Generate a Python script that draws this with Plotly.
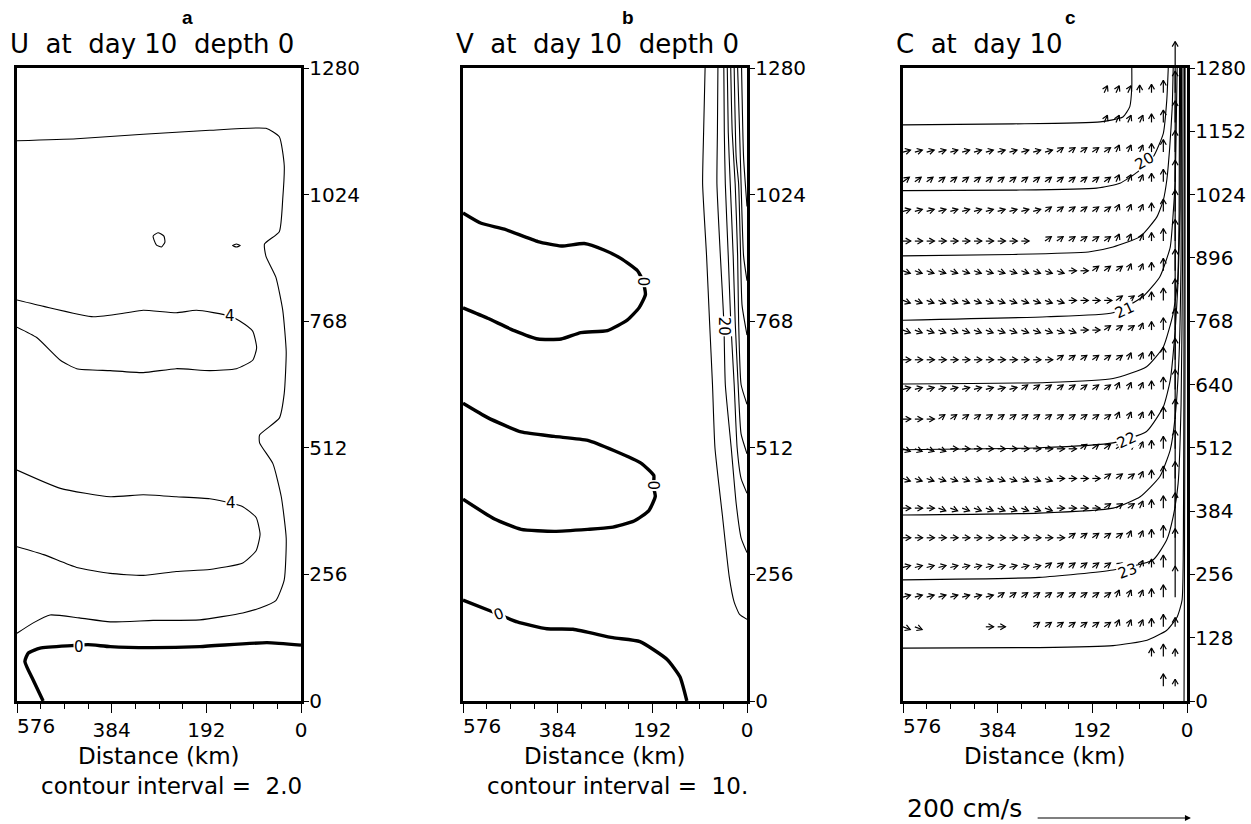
import math
import plotly.graph_objects as go

W, H = 1251, 824
FONT = "DejaVu Sans"

# ---------------------------------------------------------------- axes (km)
X_TICKS = [576, 384, 192, 0]
X_TICK_TEXT = ["", "384", "192", "0"]
X_MINOR = [528, 480, 432, 336, 288, 240, 144, 96, 48]
Y_TICKS_AB = [0, 256, 512, 768, 1024, 1280]
Y_TICKS_C = [0, 128, 256, 384, 512, 640, 768, 896, 1024, 1152, 1280]

# ---------------------------------------------------------------- panel a: U, interval 2.0
U0_X = [0, 69, 205, 306, 387, 432, 465, 529, 553, 560, 543, 523]
U0_Y = [113, 118, 110, 108, 110, 114, 112, 107, 97, 80, 42, 0]
U2_X = [576, 455, 320, 185, 71, 44, 34, 37, 44, 74, 71, 51, 37, 30, 34, 44, 84, 84, 57, 40,
        30, 34, 51, 83, 118, 205, 300, 387, 450, 509, 543, 576]
U2_Y = [1133, 1137, 1146, 1154, 1158, 1141, 1083, 1016, 949, 924, 899, 857, 790, 706, 622, 572,
        538, 522, 480, 413, 329, 245, 203, 188, 178, 164, 163, 160, 168, 174, 158, 137]
U4A_X = [576, 522, 421, 354, 320, 253, 212, 145, 125, 98, 90, 98, 131, 185, 253, 320, 387, 455,
         488, 536, 576]
U4A_Y = [811, 798, 777, 785, 790, 785, 790, 779, 769, 748, 714, 689, 672, 668, 672, 664, 668,
         672, 689, 735, 756]
U4B_X = [576, 488, 387, 320, 253, 185, 141, 118, 91, 83, 91, 118, 185, 253, 320, 387, 455, 522,
         576]
U4B_Y = [467, 430, 413, 417, 413, 409, 400, 393, 371, 337, 304, 279, 266, 262, 254, 258, 270,
         296, 312]
U4C_X = [300, 290, 278, 276, 283, 293, 298, 300]
U4C_Y = [940, 947, 940, 928, 918, 922, 932, 940]
U4D_X = [139, 131, 123, 131, 139]
U4D_Y = [921, 924, 921, 918, 921]
U_LEVELS = [0, 2, 4, 4, 4, 4]
U_LABEL_LINE = [0, 2, 3]          # which contour each label belongs to
U_LABEL_X = [450, 145, 141]
U_LABEL_Y = [110, 779, 400]
U_LABEL_ANGLE = [0, 0, 0]

# ---------------------------------------------------------------- panel b: V, interval 10
V0A_X = [576, 539, 492, 424, 377, 330, 290, 256, 222, 211, 206, 219, 243, 283, 337, 377, 424,
         472, 526, 576]
V0A_Y = [987, 966, 954, 929, 920, 925, 912, 895, 870, 849, 822, 795, 770, 749, 745, 732, 732,
         749, 774, 795]
V0B_X = [576, 526, 458, 391, 323, 269, 215, 189, 190, 186, 199, 229, 276, 323, 391, 458, 512, 576]
V0B_Y = [602, 573, 544, 535, 527, 506, 481, 456, 435, 414, 385, 364, 351, 347, 343, 347, 368, 408]
V0C_X = [576, 515, 501, 466, 406, 353, 272, 217, 162, 136, 122]
V0C_Y = [204, 180, 174, 160, 146, 145, 128, 120, 84, 49, 0]
V10_X = [85, 88, 90, 82, 76, 70, 65, 50, 36, 26, 15, 0]
V10_Y = [1280, 1150, 1046, 900, 768, 640, 512, 376, 251, 200, 175, 165]
V20_X = [59, 60, 61, 54, 47, 44, 32, 22, 12, 0]
V20_Y = [1280, 1150, 1046, 900, 768, 640, 512, 400, 330, 300]
V30_X = [47, 46, 44, 38, 33, 26, 20, 12, 0]
V30_Y = [1280, 1150, 1046, 900, 768, 640, 512, 450, 420]
V40_X = [40, 38, 34, 28, 24, 18, 12, 0]
V40_Y = [1280, 1150, 1046, 900, 768, 640, 540, 500]
V50_X = [33, 30, 24, 19, 17, 12, 0]
V50_Y = [1280, 1150, 1046, 900, 768, 640, 600]
V60_X = [26, 22, 17, 13, 10, 0]
V60_Y = [1280, 1100, 1046, 900, 800, 740]
V70_X = [19, 15, 12, 7, 0]
V70_Y = [1280, 1150, 1046, 900, 850]
V80_X = [11, 7, 0]
V80_Y = [1280, 1100, 1000]
V_LEVELS = [0, 0, 0, 10, 20, 30, 40, 50, 60, 70, 80]
V_LABEL_LINE = [0, 1, 2, 4]
V_LABEL_X = [211, 190, 502, 45]
V_LABEL_Y = [848, 435, 175, 757]
V_LABEL_ANGLE = [90, 90, -20, 90]

# ---------------------------------------------------------------- panel c: C, interval 0.5
C1_X = [576, 353, 176, 130, 116, 112, 112]
C1_Y = [1165, 1167, 1171, 1181, 1202, 1240, 1280]
C2_X = [576, 353, 183, 136, 100, 68, 48, 41, 38]
C2_Y = [1032, 1033, 1037, 1047, 1070, 1101, 1148, 1215, 1280]
C3_X = [576, 353, 200, 150, 95, 61, 48, 41, 35, 30, 28]
C3_Y = [900, 903, 908, 918, 939, 979, 1013, 1053, 1120, 1200, 1280]
C4_X = [576, 284, 150, 89, 55, 34, 28, 24, 22, 20]
C4_Y = [770, 777, 785, 818, 858, 918, 986, 1053, 1150, 1280]
C5_X = [576, 284, 150, 82, 48, 28, 19, 16, 15]
C5_Y = [641, 644, 652, 676, 716, 784, 851, 986, 1280]
C6_X = [576, 300, 150, 82, 48, 34, 24, 18, 14, 13]
C6_Y = [508, 512, 522, 545, 595, 649, 750, 850, 1000, 1280]
C7_X = [576, 300, 150, 95, 55, 34, 24, 16, 12, 11]
C7_Y = [376, 380, 390, 413, 454, 508, 575, 700, 900, 1280]
C8_X = [576, 300, 150, 69, 41, 28, 18, 12, 9, 8]
C8_Y = [245, 250, 265, 285, 326, 373, 440, 600, 900, 1280]
C9_X = [576, 300, 150, 81, 41, 20, 10, 7, 6, 5]
C9_Y = [107, 108, 112, 123, 143, 170, 204, 400, 800, 1280]
C10_X = [6, 5, 4, 4]
C10_Y = [0, 300, 700, 1280]
C_LEVELS = [19.5, 20, 20.5, 21, 21.5, 22, 22.5, 23, 23.5, 24]
C_LABEL_LINE = [1, 3, 5, 7]
C_LABEL_X = [86, 126, 122, 120]
C_LABEL_Y = [1092, 791, 528, 263]
C_LABEL_ANGLE = [-30, -25, -25, -20]

# ---------------------------------------------------------------- panel c: velocity vectors
VEC_X = [576, 552, 528, 504, 480, 456, 432, 408, 384, 360, 336, 312,
         288, 264, 240, 216, 192, 168, 144, 120, 96, 72, 48, 24]
VEC_Y = [30, 90, 150, 210, 270, 330, 390, 450, 510, 570, 630, 690,
         750, 810, 870, 930, 990, 1050, 1110, 1170, 1230]
# one character per arrow (bottom row first); the character gives its heading
VEC_ROWS = [
    "                      ^^",
    "                     ^^^",
    "dd     >>  7777777111^^^",
    "rrrrrrrr7777777777111^^^",
    "rrrrrrrrrrrr777777711^^^",
    ">>>>>>>>>>>>>>7777711^^^",
    ">>>dddddddddd>>>>7771^^^",
    "ddddddddddddd>>>>7771^^^",
    "dddd>>>>>>>>>>>777771^^^",
    ">>>777777777777777111^^^",
    "rrrrrrrrrr77777777111^^^",
    ">>>>>>>>>>>>>77777711^^^",
    "ddddddddddddddd>>7771^^^",
    "dddddddddddddd>>>>771^^^",
    "dddddddddddddd>>77711^^^",
    ">>>>>>>>>>> 777777111^^^",
    "rrrrrrrrrrrr777777111^^^",
    "777777777777777777111^^^",
    "rrrrrrrrrrrrr77777111^^^",
    "                 1111^^^",
    "                 111^^^^",
]
HEADING_DEG = {"d": -20, ">": 0, "r": 15, "7": 35, "1": 65, "^": 90}
COL_SPEED = [10, 10, 10, 10, 10, 10, 10, 10, 10, 10, 10, 10,
             10, 10, 10, 10, 10, 10, 10, 10, 10, 11, 16]   # cm/s, offshore columns
COAST_SPEED = [9, 10, 12, 40, 50, 58, 60, 62, 64, 64, 66, 66,
               66, 66, 66, 66, 66, 66, 66, 66, 66]         # cm/s, nearshore column
REF_SPEED = 200                                             # cm/s key arrow
KM_PER_CMS = 1.57

# ---------------------------------------------------------------- layout geometry (px)
PANEL_X = [(17, 301), (463, 747), (903, 1187)]
PLOT_TOP, PLOT_BOT = 68, 701
VEC_TOP = 30


def px_x(p):
    return p / W


def px_y(p):
    return 1 - p / H


y_dom = [px_y(PLOT_BOT), px_y(PLOT_TOP)]

fig = go.Figure()


def add_contours(lines, levels, xa, ya, bold_level):
    for (xs, ys), lev in zip(lines, levels):
        fig.add_trace(go.Scatter(
            x=xs, y=ys, mode="lines", xaxis=xa, yaxis=ya,
            line=dict(color="black", width=3.4 if lev == bold_level else 1.1,
                      shape="spline", smoothing=0.5),
            hoverinfo="skip", showlegend=False))


def fmt(v):
    return str(int(v)) if float(v).is_integer() else str(v)


def add_labels(levels, idx, xs, ys, angles, xa, ya, size=15):
    for i, x, y, a in zip(idx, xs, ys, angles):
        fig.add_annotation(x=x, y=y, xref=xa, yref=ya, text=fmt(levels[i]),
                           showarrow=False, textangle=a, bgcolor="white", borderpad=0,
                           font=dict(family=FONT, size=size, color="black"))


U_LINES = [(U0_X, U0_Y), (U2_X, U2_Y), (U4A_X, U4A_Y), (U4B_X, U4B_Y), (U4C_X, U4C_Y),
           (U4D_X, U4D_Y)]
V_LINES = [(V0A_X, V0A_Y), (V0B_X, V0B_Y), (V0C_X, V0C_Y), (V10_X, V10_Y), (V20_X, V20_Y),
           (V30_X, V30_Y), (V40_X, V40_Y), (V50_X, V50_Y), (V60_X, V60_Y), (V70_X, V70_Y),
           (V80_X, V80_Y)]
C_LINES = [(C1_X, C1_Y), (C2_X, C2_Y), (C3_X, C3_Y), (C4_X, C4_Y), (C5_X, C5_Y), (C6_X, C6_Y),
           (C7_X, C7_Y), (C8_X, C8_Y), (C9_X, C9_Y), (C10_X, C10_Y)]

add_contours(U_LINES, U_LEVELS, "x", "y", 0)
add_contours(V_LINES, V_LEVELS, "x2", "y2", 0)
add_contours(C_LINES, C_LEVELS, "x3", "y3", None)

# vectors: arrow heading measured from the onshore direction (toward x = 0)
HEAD_KM, HEAD_DEG = 12.0, 30.0
vx, vy = [], []
for r, (y0, row) in enumerate(zip(VEC_Y, VEC_ROWS)):
    for k, (x0, ch) in enumerate(zip(VEC_X, row)):
        if ch == " ":
            continue
        speed = COAST_SPEED[r] if k == len(VEC_X) - 1 else COL_SPEED[k]
        th = math.radians(HEADING_DEG[ch])
        L = speed * KM_PER_CMS
        # work in screen orientation (s = -x), then map back to km offshore
        s0 = -x0
        s1, y1 = s0 + L * math.cos(th), y0 + L * math.sin(th)
        back = th + math.pi
        h1 = (s1 + HEAD_KM * math.cos(back + math.radians(HEAD_DEG)),
              y1 + HEAD_KM * math.sin(back + math.radians(HEAD_DEG)))
        h2 = (s1 + HEAD_KM * math.cos(back - math.radians(HEAD_DEG)),
              y1 + HEAD_KM * math.sin(back - math.radians(HEAD_DEG)))
        vx += [-s0, -s1, None, -h1[0], -s1, -h2[0], None]
        vy += [y0, y1, None, h1[1], y1, h2[1], None]
fig.add_trace(go.Scatter(x=vx, y=vy, mode="lines", xaxis="x4", yaxis="y4",
                         line=dict(color="black", width=1.2), hoverinfo="skip",
                         showlegend=False))

add_labels(U_LEVELS, U_LABEL_LINE, U_LABEL_X, U_LABEL_Y, U_LABEL_ANGLE, "x", "y")
add_labels(V_LEVELS, V_LABEL_LINE, V_LABEL_X, V_LABEL_Y, V_LABEL_ANGLE, "x2", "y2")
add_labels(C_LEVELS, C_LABEL_LINE, C_LABEL_X, C_LABEL_Y, C_LABEL_ANGLE, "x3", "y3")

tickfont = dict(family=FONT, size=20, color="black")


def xaxis(i):
    x0, x1 = PANEL_X[i]
    return dict(domain=[px_x(x0), px_x(x1)], range=[576, 0], anchor="y" + ("" if i == 0 else str(i + 1)),
                showline=True, linewidth=2.5, linecolor="black", mirror=True,
                ticks="outside", ticklen=9, tickwidth=1.3, tickcolor="black",
                tickmode="array", tickvals=X_TICKS, ticktext=X_TICK_TEXT,
                minor=dict(tickvals=X_MINOR, ticks="outside", ticklen=5, tickwidth=1,
                           tickcolor="black"),
                showgrid=False, zeroline=False, tickfont=tickfont, fixedrange=True,
                automargin=False)


def yaxis(i, ticks):
    return dict(domain=y_dom, range=[0, 1280], anchor="x" + ("" if i == 0 else str(i + 1)),
                side="right", showline=True, linewidth=3.4, linecolor="black", mirror=True,
                ticks="outside", ticklen=5, tickwidth=1.2, tickcolor="black",
                tickmode="array", tickvals=ticks, ticktext=[str(t) for t in ticks],
                ticklabelstandoff=-4,
                showgrid=False, zeroline=False, tickfont=tickfont, fixedrange=True,
                automargin=False)


vec_top = px_y(VEC_TOP)
vec_range_top = 1280 * (vec_top - y_dom[0]) / (y_dom[1] - y_dom[0])

fig.update_layout(
    width=W, height=H, margin=dict(l=0, r=0, t=0, b=0, pad=0, autoexpand=False),
    paper_bgcolor="white", plot_bgcolor="rgba(0,0,0,0)",
    xaxis=xaxis(0), yaxis=yaxis(0, Y_TICKS_AB),
    xaxis2=xaxis(1), yaxis2=yaxis(1, Y_TICKS_AB),
    xaxis3=xaxis(2), yaxis3=yaxis(2, Y_TICKS_C),
    xaxis4=dict(domain=[px_x(PANEL_X[2][0]), px_x(PANEL_X[2][1])], range=[576, 0],
                anchor="y4", visible=False, fixedrange=True),
    yaxis4=dict(domain=[y_dom[0], vec_top], range=[0, vec_range_top], anchor="x4",
                visible=False, fixedrange=True),
)


def text(xp, yp, s, size, xanchor="left", bold=False, family=FONT):
    fig.add_annotation(x=px_x(xp), y=px_y(yp), xref="paper", yref="paper", text=s,
                       showarrow=False, xanchor=xanchor, yanchor="middle", borderpad=0,
                       font=dict(family=family, size=size, color="black",
                                 weight="bold" if bold else "normal"))


NB = "\u00a0"
for i, (letter, title, note) in enumerate([
        ("a", f"U{NB*2}at{NB*2}day{NB}10{NB*2}depth{NB}0", f"contour interval{NB}={NB*2}2.0"),
        ("b", f"V{NB*2}at{NB*2}day{NB}10{NB*2}depth{NB}0", f"contour interval{NB}={NB*2}10."),
        ("c", f"C{NB*2}at{NB*2}day{NB}10", None)]):
    x0, x1 = PANEL_X[i]
    text([187, 628, 1070][i], 18, letter, 19, "center", bold=True, family="Liberation Sans")
    text(x0 - 8, 44, title, 26)
    # 576 label sits just inside the left tick
    text(x0 - 1, 726, "576", 20)
    text((x0 + x1) / 2, 756, "Distance (km)", 23, "center")
    if note:
        text((x0 + x1) / 2 + 12, 786, note, 23, "center")

text(906, 808, f"{REF_SPEED}{NB}cm/s", 25)
fig.add_annotation(x=-8, y=px_y(818), xref="x3", yref="paper",
                   ax=-8 + REF_SPEED * KM_PER_CMS, ay=0, axref="x3", ayref="pixel",
                   showarrow=True, arrowhead=2, arrowsize=1, arrowwidth=1.2, arrowcolor="black",
                   text="")

fig.write_html("out.html")
